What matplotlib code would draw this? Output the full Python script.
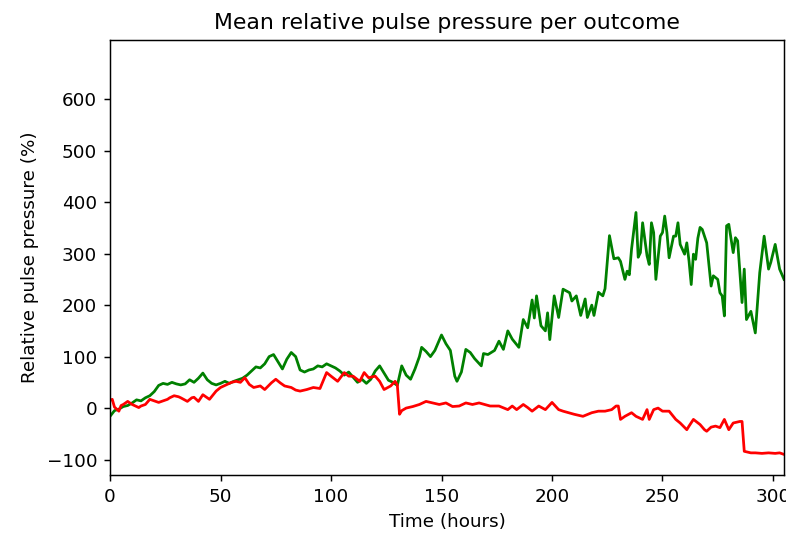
import matplotlib
matplotlib.use("Agg")
import matplotlib.pyplot as plt

# mean relative pulse pressure (%) per outcome, by hour
survived_hours = [0, 2, 4, 6, 8, 10, 12, 14, 16, 18, 20, 22, 24, 26, 28, 30, 32, 34, 36, 38,
                  40, 42, 44, 46, 48, 50, 52, 54, 56, 58, 60, 62, 64, 66, 68, 70, 72, 74, 76, 78,
                  80, 82, 84, 86, 88, 90, 92, 94, 96, 98, 100, 102, 104, 106, 108, 110, 112, 114,
                  116, 118, 120, 122, 124, 126, 128, 130, 132, 134, 136, 138, 140, 141, 143, 145,
                  147, 150, 152, 154, 156, 157, 159, 161, 163, 165, 168, 169, 171, 174, 176, 178,
                  180, 182, 185, 187, 189, 191, 192, 193, 195, 197, 198, 199, 201, 203, 205, 208,
                  209, 211, 213, 215, 216, 218, 219, 221, 223, 224, 226, 228, 230, 231, 233, 234,
                  235, 236, 238, 239, 240, 241, 243, 244, 245, 246, 247, 249, 250, 251, 252, 253,
                  255, 256, 257, 258, 260, 261, 262, 263, 264, 265, 266, 267, 268, 270, 272, 273,
                  275, 276, 277, 278, 279, 280, 282, 283, 284, 286, 287, 288, 290, 292, 294, 296,
                  298, 299, 301, 303, 305]
survived_pp = [-16, -5, -2, 3, 5, 10, 16, 14, 20, 24, 32, 44, 48, 46, 50, 47, 45, 47, 55, 50,
               58, 68, 55, 48, 45, 48, 52, 48, 52, 55, 58, 64, 72, 80, 78, 86, 100, 104, 90, 76,
               95, 108, 100, 74, 70, 74, 76, 82, 80, 86, 82, 78, 72, 64, 70, 60, 50, 56,
               48, 56, 72, 82, 68, 54, 50, 44, 82, 64, 56, 76, 100, 118, 110, 100,
               112, 142, 125, 112, 62, 52, 70, 114, 108, 96, 82, 106, 104, 112, 130, 114,
               150, 134, 118, 172, 156, 210, 175, 218, 160, 150, 185, 133, 218, 176, 231, 224,
               208, 218, 180, 212, 176, 200, 180, 225, 218, 232, 335, 290, 292, 285, 250, 266,
               259, 309, 380, 293, 302, 360, 296, 279, 360, 341, 250, 334, 341, 373, 341, 292,
               334, 334, 360, 318, 299, 321, 286, 240, 299, 289, 330, 351, 347, 321, 237, 257,
               250, 224, 218, 179, 354, 357, 302, 331, 325, 205, 270, 172, 188, 146, 263, 334,
               270, 283, 318, 270, 250]

died_hours = [0, 1, 2, 4, 5, 6, 8, 10, 13, 14, 16, 18, 20, 22, 24, 26, 27, 29, 31, 32,
              35, 37, 38, 40, 42, 45, 48, 50, 53, 55, 57, 59, 61, 63, 65, 68, 70, 73, 75, 77,
              79, 82, 84, 86, 89, 92, 95, 98, 100, 103, 106, 108, 110, 113, 115, 117, 120, 122,
              124, 127, 129, 130, 131, 132, 134, 137, 140, 143, 146, 149, 152, 155, 158, 161,
              164, 167, 172, 176, 180, 182, 184, 187, 189, 191, 194, 197, 200, 203, 205, 210,
              214, 218, 221, 224, 227, 229, 230, 231, 233, 236, 238, 241, 243, 244, 246, 248,
              250, 253, 256, 258, 261, 262, 264, 267, 269, 270, 272, 274, 276, 278, 280, 282,
              285, 286, 287, 290, 292, 295, 298, 301, 303, 305]
died_pp = [15, 17, 2, -6, 5, 7, 13, 7, 1, 4, 7, 17, 14, 11, 14, 17, 20, 24, 22, 20,
           13, 20, 21, 13, 26, 17, 33, 40, 46, 50, 52, 50, 59, 46, 40, 43, 36, 49, 56, 49,
           43, 40, 35, 33, 36, 40, 38, 69, 62, 52, 69, 62, 62, 52, 69, 59, 62, 52,
           36, 43, 52, 45, -12, -5, 0, 3, 7, 13, 10, 7, 10, 3, 4, 10,
           7, 10, 4, 4, -3, 4, -3, 7, 1, -6, 4, -3, 11, -3, -6, -12,
           -16, -9, -6, -6, -3, 4, 4, -22, -16, -9, -16, -22, -3, -22, -3, 0,
           -6, -6, -22, -29, -42, -35, -22, -32, -42, -45, -37, -35, -38, -22, -42, -29,
           -26, -26, -84, -87, -87, -88, -87, -88, -87, -90]

fig, ax = plt.subplots(figsize=(786 / 132, 541 / 132), dpi=132)
fig.subplots_adjust(left=0.14, right=0.9975, top=0.926, bottom=0.122)

ax.plot(survived_hours, survived_pp, color="green")
ax.plot(died_hours, died_pp, color="red")

ax.set_xlim(0, 305)
ax.set_ylim(-130, 715)
ax.set_yticks([-100, 0, 100, 200, 300, 400, 500, 600])
ax.set_xlabel("Time (hours)")
ax.set_ylabel("Relative pulse pressure (%)")
ax.set_title("Mean relative pulse pressure per outcome")

fig.savefig("out.png", dpi=132)
